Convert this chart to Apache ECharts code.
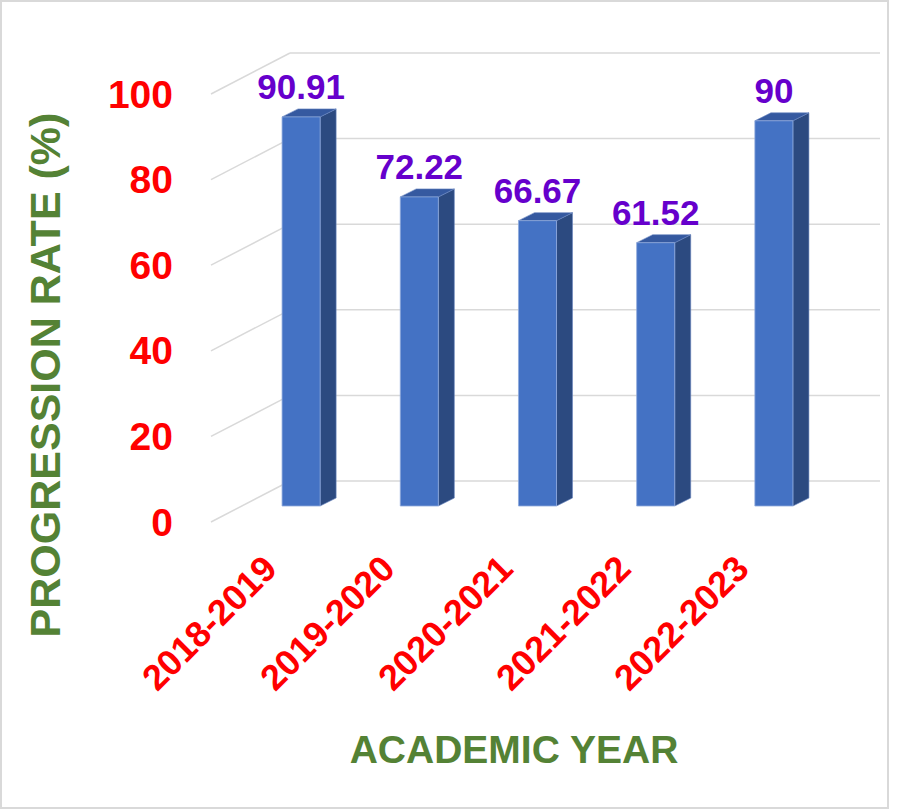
<!DOCTYPE html>
<html>
<head>
<meta charset="utf-8">
<script src="https://cdn.jsdelivr.net/npm/echarts@6/dist/echarts.min.js"></script>
<style>
html,body{margin:0;padding:0;background:#fff;}
#chart{width:906px;height:810px;}
</style>
</head>
<body>
<div id="chart"></div>
<script>
const categories = ['2018-2019', '2019-2020', '2020-2021', '2021-2022', '2022-2023'];
const progressionRate = [90.91, 72.22, 66.67, 61.52, 90];
const yTicks = [0, 20, 40, 60, 80, 100];
const yAxisTitle = 'PROGRESSION RATE (%)';
const xAxisTitle = 'ACADEMIC YEAR';

const FONT = "'Liberation Sans', Arial, sans-serif";
const chart = echarts.init(document.getElementById('chart'), null, {renderer: 'svg'});

// perspective offsets of the back wall relative to the front (label) plane
const BACK_DX = 79, BACK_DY = -41;
// bar depth
const DEPTH_DX = 16, DEPTH_DY = -8;

const option = {
  backgroundColor: '#ffffff',
  animation: false,
  graphic: [
    {type: 'rect', shape: {x: 1, y: 1, width: 887, height: 807}, style: {fill: 'none', stroke: '#d9d9d9', lineWidth: 2}, z: -10},
    {type: 'text', x: 514, y: 749, style: {text: xAxisTitle, fill: '#548235', font: 'bold 39px ' + FONT, textAlign: 'center', textVerticalAlign: 'middle'}},
    {type: 'text', x: 45, y: 375, rotation: Math.PI / 2,
      style: {text: yAxisTitle, fill: '#548235', font: 'bold 43px ' + FONT, textAlign: 'center', textVerticalAlign: 'middle'}}
  ],
  grid: [
    {left: 211, right: 105, top: 94, bottom: 288},   // front plane (labels, floor edge)
    {left: 242, right: 73, top: 78, bottom: 304}     // bar plane
  ],
  xAxis: [
    {
      type: 'category', gridIndex: 0, data: categories,
      axisLine: {show: false}, axisTick: {show: false},
      axisLabel: {rotate: 45, margin: 40, color: '#ff0000', fontWeight: 'bold', fontSize: 36, fontFamily: FONT, interval: 0}
    },
    {type: 'category', gridIndex: 1, data: categories, show: false}
  ],
  yAxis: [
    {
      type: 'value', gridIndex: 0, min: 0, max: 100, interval: 20,
      axisLine: {show: false}, axisTick: {show: false}, splitLine: {show: false},
      axisLabel: {margin: 38, color: '#ff0000', fontWeight: 'bold', fontSize: 39, fontFamily: FONT}
    },
    {type: 'value', gridIndex: 1, min: 0, max: 100, interval: 20, show: false}
  ],
  series: [
    {
      type: 'custom', xAxisIndex: 0, yAxisIndex: 0, z: 1, silent: true,
      data: yTicks.map(v => [0, v]),
      renderItem: function (params, api) {
        const cs = params.coordSys;
        const y = api.coord([0, api.value(1)])[1];
        const x0 = cs.x;
        const xb = cs.x + BACK_DX;
        const xe = cs.x + cs.width + BACK_DX;
        const style = {stroke: '#d9d9d9', lineWidth: 1.5, fill: 'none'};
        return {
          type: 'group',
          children: [
            {type: 'line', shape: {x1: x0, y1: y, x2: xb, y2: y + BACK_DY}, style: style},
            {type: 'line', shape: {x1: xb, y1: y + BACK_DY, x2: xe, y2: y + BACK_DY}, style: style}
          ]
        };
      }
    },
    {
      type: 'custom', xAxisIndex: 1, yAxisIndex: 1, z: 5, silent: true,
      data: progressionRate.map((v, i) => [i, v]),
      encode: {x: 0, y: 1},
      renderItem: function (params, api) {
        const i = api.value(0), v = api.value(1);
        const top = api.coord([i, v]);
        const base = api.coord([i, 0]);
        const bw = api.size([1, 0])[0] * 0.322;
        const xl = top[0] - bw / 2, xr = top[0] + bw / 2;
        const yt = top[1], yb = base[1];
        return {
          type: 'group',
          children: [
            {type: 'polygon', shape: {points: [[xr, yt], [xr + DEPTH_DX, yt + DEPTH_DY], [xr + DEPTH_DX, yb + DEPTH_DY], [xr, yb]]},
              style: {fill: '#2c4a80', stroke: '#6a86c0', lineWidth: 0.6}},
            {type: 'polygon', shape: {points: [[xl, yt], [xl + DEPTH_DX, yt + DEPTH_DY], [xr + DEPTH_DX, yt + DEPTH_DY], [xr, yt]]},
              style: {fill: '#3559a0', stroke: '#6a86c0', lineWidth: 0.6}},
            {type: 'rect', shape: {x: xl, y: yt, width: bw, height: yb - yt},
              style: {fill: '#4472c4', stroke: '#8fa9dc', lineWidth: 0.8}},
            {type: 'text', x: top[0], y: yt + DEPTH_DY - 5,
              style: {text: String(v), fill: '#6600cc', font: 'bold 35px ' + FONT, textAlign: 'center', textVerticalAlign: 'bottom'}}
          ]
        };
      }
    }
  ]
};
chart.setOption(option);
</script>
</body>
</html>
